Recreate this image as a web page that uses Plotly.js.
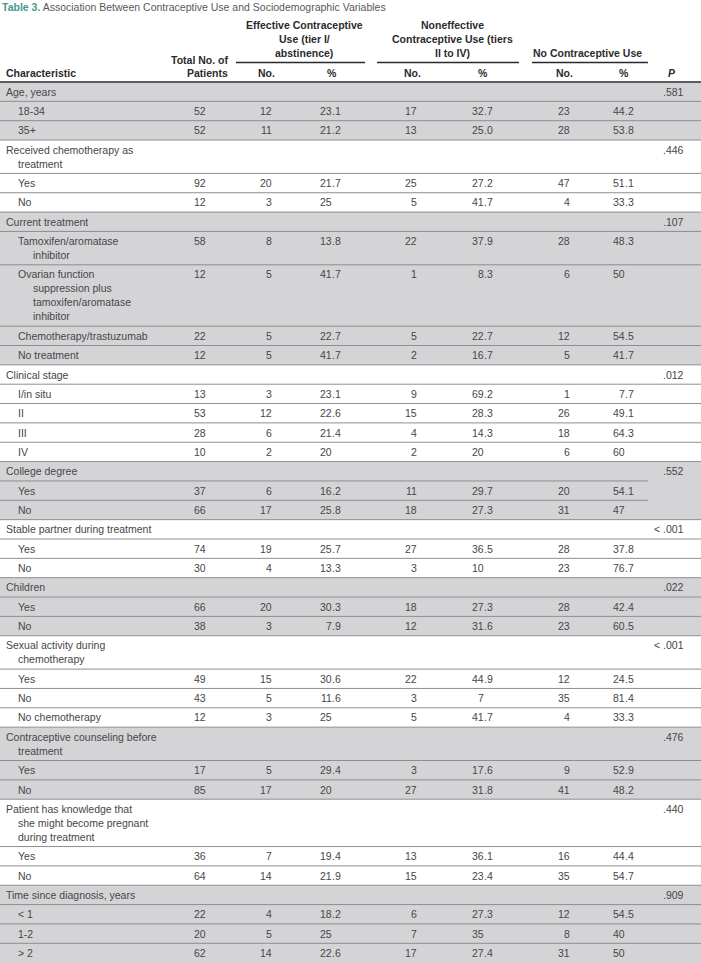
<!DOCTYPE html>
<html><head><meta charset="utf-8">
<script src="https://cdn.plot.ly/plotly-3.0.1.min.js"></script>
<style>html,body{margin:0;padding:0;background:#fff}</style>
</head><body><div id="chart" style="width:701px;height:963px"></div>
<script>
// ---------- content ----------
const titleLead = 'Table 3.';
const titleText = 'Association Between Contraceptive Use and Sociodemographic Variables';
const headerChar = 'Characteristic';
const headerTotal = ['Total No. of', 'Patients'];
const headerGroups = [
  ['Effective Contraceptive', 'Use (tier I/', 'abstinence)'],
  ['Noneffective', 'Contraceptive Use (tiers', 'II to IV)'],
  ['No Contraceptive Use']
];
const headerSub = ['No.', '%'];
const headerP = 'P';

const characteristic = [
  'Age, years', '18-34', '35+',
  'Received chemotherapy as<br>treatment', 'Yes', 'No',
  'Current treatment', 'Tamoxifen/aromatase<br>inhibitor',
  'Ovarian function<br>suppression plus<br>tamoxifen/aromatase<br>inhibitor',
  'Chemotherapy/trastuzumab', 'No treatment',
  'Clinical stage', 'I/in situ', 'II', 'III', 'IV',
  'College degree', 'Yes', 'No',
  'Stable partner during treatment', 'Yes', 'No',
  'Children', 'Yes', 'No',
  'Sexual activity during<br>chemotherapy', 'Yes', 'No', 'No chemotherapy',
  'Contraceptive counseling before<br>treatment', 'Yes', 'No',
  'Patient has knowledge that<br>she might become pregnant<br>during treatment', 'Yes', 'No',
  'Time since diagnosis, years', '< 1', '1-2', '> 2'
];
const rowKind = [
  'g','i','i',
  'g','i','i',
  'g','i','i','i','i',
  'g','i','i','i','i',
  'g','i','i',
  'g','i','i',
  'g','i','i',
  'g','i','i','i',
  'g','i','i',
  'g','i','i',
  'g','i','i','i'
];
const totalN = [null,52,52, null,92,12, null,58,12,22,12, null,13,53,28,10, null,37,66, null,74,30, null,66,38, null,49,43,12, null,17,85, null,36,64, null,22,20,62];
const effN   = [null,12,11, null,20,3,  null,8,5,5,5,     null,3,12,6,2,    null,6,17,  null,19,4,  null,20,3,  null,15,5,3,   null,5,17,  null,7,14,  null,4,5,14];
const effPct = [null,'23.1','21.2', null,'21.7','25', null,'13.8','41.7','22.7','41.7', null,'23.1','22.6','21.4','20', null,'16.2','25.8', null,'25.7','13.3', null,'30.3','7.9', null,'30.6','11.6','25', null,'29.4','20', null,'19.4','21.9', null,'18.2','25','22.6'];
const nonN   = [null,17,13, null,25,5,  null,22,1,5,2,    null,9,15,4,2,    null,11,18, null,27,3,  null,18,12, null,22,3,5,   null,3,27,  null,13,15, null,6,7,17];
const nonPct = [null,'32.7','25.0', null,'27.2','41.7', null,'37.9','8.3','22.7','16.7', null,'69.2','28.3','14.3','20', null,'29.7','27.3', null,'36.5','10', null,'27.3','31.6', null,'44.9','7','41.7', null,'17.6','31.8', null,'36.1','23.4', null,'27.3','35','27.4'];
const noneN  = [null,23,28, null,47,4,  null,28,6,12,5,   null,1,26,18,6,   null,20,31, null,28,23, null,28,23, null,12,35,4,  null,9,41,  null,16,35, null,12,8,31];
const nonePct= [null,'44.2','53.8', null,'51.1','33.3', null,'48.3','50','54.5','41.7', null,'7.7','49.1','64.3','60', null,'54.1','47', null,'37.8','76.7', null,'42.4','60.5', null,'24.5','81.4','33.3', null,'52.9','48.2', null,'44.4','54.7', null,'54.5','40','50'];
const pValue = ['.581',null,null, '.446',null,null, '.107',null,null,null,null, '.012',null,null,null,null, '.552',null,null, '< .001',null,null, '.022',null,null, '< .001',null,null,null, '.476',null,null, '.440',null,null, '.909',null,null,null];
const shortRuleGroups = ['College degree'];

// ---------- geometry / style ----------
const W = 701, H = 963;
const FONT = 'Liberation Sans, Arial, Helvetica, sans-serif';
const FS = 10.5;
const TXT = '#464648';
const HEAD = '#2b2b2d';
const BAND = '#d4d4d6';
const RULE = '#8e8e90';
const headBottom = 82, rowH = 19.35, lineH = 14;

const ann = [];
const shapes = [];
function T(text, x, y, xanchor, o) {
  o = o || {};
  ann.push({
    text: text, x: x, y: y, xref: 'x', yref: 'y', xanchor: xanchor, yanchor: 'middle',
    showarrow: false, borderpad: 0, borderwidth: 0, align: xanchor === 'center' ? 'center' : xanchor,
    font: { family: FONT, size: o.size || FS, color: o.color || TXT }
  });
}
function L(x0, x1, y, color, width) {
  shapes.push({ type: 'line', xref: 'x', yref: 'y', x0: x0, x1: x1, y0: y, y1: y, line: { color: color, width: width }, layer: 'above' });
}

// row tops
const tops = [];
let yy = headBottom;
characteristic.forEach(function (lab) { tops.push(yy); yy += rowH + lineH * (lab.split('<br>').length - 1); });
tops.push(yy);

// groups
const groups = [];
rowKind.forEach(function (k, i) { if (k === 'g') groups.push({ start: i, label: characteristic[i] }); });
groups.forEach(function (g, gi) { g.end = gi + 1 < groups.length ? groups[gi + 1].start : characteristic.length; });
const groupOf = [];
groups.forEach(function (g, gi) { for (let i = g.start; i < g.end; i++) groupOf[i] = gi; });

// bands
groups.forEach(function (g, gi) {
  if (gi % 2 === 0) {
    const y1 = gi === groups.length - 1 ? H : tops[g.end];
    shapes.push({ type: 'rect', xref: 'x', yref: 'y', x0: 0, x1: W, y0: tops[g.start], y1: y1, fillcolor: BAND, line: { width: 0 }, layer: 'below' });
  }
});

// row rules
for (let i = 1; i < characteristic.length; i++) {
  const inner = groupOf[i] === groupOf[i - 1];
  const short = inner && shortRuleGroups.indexOf(groups[groupOf[i]].label) >= 0;
  L(0, short ? 648 : W, tops[i], RULE, 1);
}
L(0, W, headBottom, '#5e5e60', 1.8);

// title
T('<b><span style="color:#3f9a8c">' + titleLead + '</span></b> ' + titleText, 2, 6.5, 'left', { color: '#58585a' });

// header
const hb = '<b>', he = '</b>';
T(hb + headerChar + he, 6, 73, 'left', { color: HEAD });
T(hb + headerTotal[0] + he, 228, 60, 'right', { color: HEAD });
T(hb + headerTotal[1] + he, 228, 73, 'right', { color: HEAD });
const grpCenter = [304, 452, 587.5];
const grpRule = [[236, 365], [377, 519], [532, 648]];
headerGroups.forEach(function (lines, gi) {
  lines.forEach(function (ln, k) {
    const y = 53 - lineH * (lines.length - 1 - k);
    T(hb + ln + he, grpCenter[gi], y, 'center', { color: HEAD });
  });
  L(grpRule[gi][0], grpRule[gi][1], 62.5, '#2a2a2a', 1.4);
});
const subNoX = [266.5, 412.5, 564.5], subPctX = [331.5, 482.5, 624];
for (let gi = 0; gi < 3; gi++) {
  T(hb + headerSub[0] + he, subNoX[gi], 73, 'center', { color: HEAD });
  T(hb + headerSub[1] + he, subPctX[gi], 73, 'center', { color: HEAD });
}
T('<b><i>' + headerP + '</i></b>', 671.5, 73, 'center', { color: HEAD });

// body
const xTotal = 206, xNo = [272, 417, 570], xDec = [331.5, 483.5, 624.5], xP = 684;
function pct(v, xd, y) {
  if (v === null) return;
  const parts = v.split('.');
  T(parts[0], xd, y, 'right');
  if (parts.length > 1) T('.' + parts[1], xd, y, 'left');
}
characteristic.forEach(function (lab, i) {
  const yc = tops[i] + rowH / 2;
  const lines = lab.split('<br>');
  const g = rowKind[i] === 'g';
  lines.forEach(function (ln, k) {
    const x = k === 0 ? (g ? 6 : 18) : (g ? 18 : 33);
    T(ln, x, yc + lineH * k, 'left');
  });
  if (totalN[i] !== null) T(String(totalN[i]), xTotal, yc, 'right');
  if (effN[i] !== null) T(String(effN[i]), xNo[0], yc, 'right');
  if (nonN[i] !== null) T(String(nonN[i]), xNo[1], yc, 'right');
  if (noneN[i] !== null) T(String(noneN[i]), xNo[2], yc, 'right');
  pct(effPct[i], xDec[0], yc);
  pct(nonPct[i], xDec[1], yc);
  pct(nonePct[i], xDec[2], yc);
  if (pValue[i] !== null) T(pValue[i], xP, yc, 'right');
});

const layout = {
  width: W, height: H, margin: { l: 0, r: 0, t: 0, b: 0, pad: 0 },
  paper_bgcolor: '#ffffff', plot_bgcolor: '#ffffff', showlegend: false,
  xaxis: { range: [0, W], visible: false, fixedrange: true, autorange: false },
  yaxis: { range: [H, 0], visible: false, fixedrange: true, autorange: false },
  shapes: shapes, annotations: ann
};
Plotly.newPlot('chart', [{ type: 'scatter', x: [], y: [], hoverinfo: 'skip' }], layout, { staticPlot: true, displayModeBar: false });
</script>
</body></html>
